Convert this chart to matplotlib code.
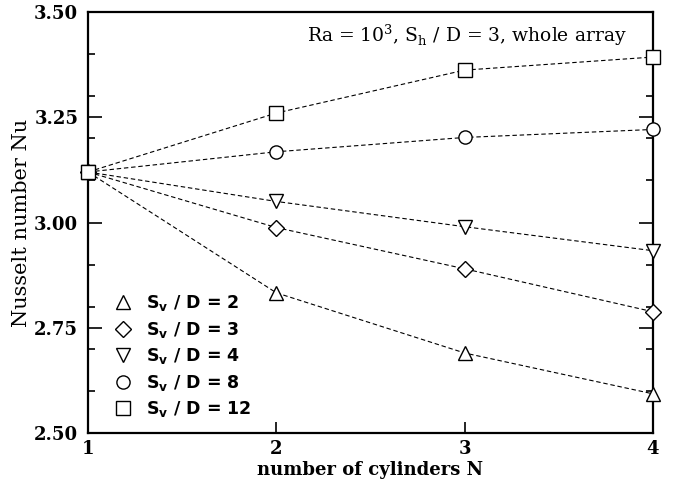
import matplotlib
matplotlib.use('Agg')
import matplotlib.pyplot as plt
from matplotlib.lines import Line2D
from matplotlib.ticker import FixedLocator

# data
n_cyl = [1, 2, 3, 4]
nu_sv2 = [3.12, 2.833, 2.690, 2.593]
nu_sv3 = [3.12, 2.988, 2.890, 2.788]
nu_sv4 = [3.12, 3.050, 2.990, 2.933]
nu_sv8 = [3.12, 3.168, 3.202, 3.221]
nu_sv12 = [3.12, 3.260, 3.362, 3.393]
sv_labels = ['2', '3', '4', '8', '12']
y_ticks = [2.50, 2.75, 3.00, 3.25, 3.50]
y_minor = [2.6, 2.7, 2.8, 2.9, 3.1, 3.2, 3.3, 3.4]

plt.rcParams['mathtext.fontset'] = 'custom'
plt.rcParams['mathtext.rm'] = 'DejaVu Serif'
plt.rcParams['mathtext.bf'] = 'DejaVu Sans:bold'

fig = plt.figure(figsize=(6.75, 4.8), dpi=100)
ax = fig.add_axes([88/675, 47/480, 565/675, 421/480])

series = [nu_sv2, nu_sv3, nu_sv4, nu_sv8, nu_sv12]
markers = ['^', 'D', 'v', 'o', 's']
msizes = [10, 8, 10, 9.5, 10]

for vals, m, ms in zip(series, markers, msizes):
    ax.plot(n_cyl, vals, color='black', lw=0.8, ls=(0, (4, 2.5)), zorder=2)
    ax.plot(n_cyl, vals, ls='none', marker=m, ms=ms, mfc='white',
            mec='black', mew=1.0, zorder=3, clip_on=False)

handles = []
for m, ms, lab in zip(markers, msizes, sv_labels):
    handles.append(Line2D([], [], ls='none', marker=m, ms=ms, mfc='white',
                          mec='black', mew=1.0,
                          label=r'S$\mathbf{_v}$ / D = ' + lab))
leg = ax.legend(handles=handles, loc='lower left', bbox_to_anchor=(0.004, -0.005),
                frameon=False, handletextpad=0.3, labelspacing=0.38,
                prop={'family': 'DejaVu Sans', 'weight': 'bold', 'size': 12.5})

ax.text(0.954, 0.945, r'Ra = 10$^{3}$, S$_{\mathrm{h}}$ / D = 3, whole array',
        transform=ax.transAxes, ha='right', va='center',
        fontsize=13.5, family='DejaVu Serif')

ax.set_xlim(1, 4)
ax.set_ylim(2.50, 3.50)
ax.set_xticks(n_cyl)
ax.set_xticklabels([str(n) for n in n_cyl])
ax.set_yticks(y_ticks)
ax.set_yticklabels(['%.2f' % v for v in y_ticks])
ax.yaxis.set_minor_locator(FixedLocator(y_minor))

ax.tick_params(axis='y', which='major', direction='in', length=10, width=1.2,
               left=True, right=True, pad=7)
ax.tick_params(axis='y', which='minor', direction='in', length=5, width=1.2,
               left=True, right=True)
ax.tick_params(axis='x', which='major', direction='in', length=8, width=1.2,
               bottom=True, top=False, pad=5)
for lab in ax.get_xticklabels() + ax.get_yticklabels():
    lab.set_fontfamily('DejaVu Serif')
    lab.set_fontweight('bold')
    lab.set_fontsize(13)

for sp in ax.spines.values():
    sp.set_linewidth(1.6)

ax.set_ylabel('Nusselt number Nu', family='DejaVu Serif', fontsize=15, labelpad=2)
ax.set_xlabel('number of cylinders N', family='DejaVu Serif', fontsize=13,
              fontweight='bold', labelpad=2)

fig.savefig('out.png', dpi=100)
